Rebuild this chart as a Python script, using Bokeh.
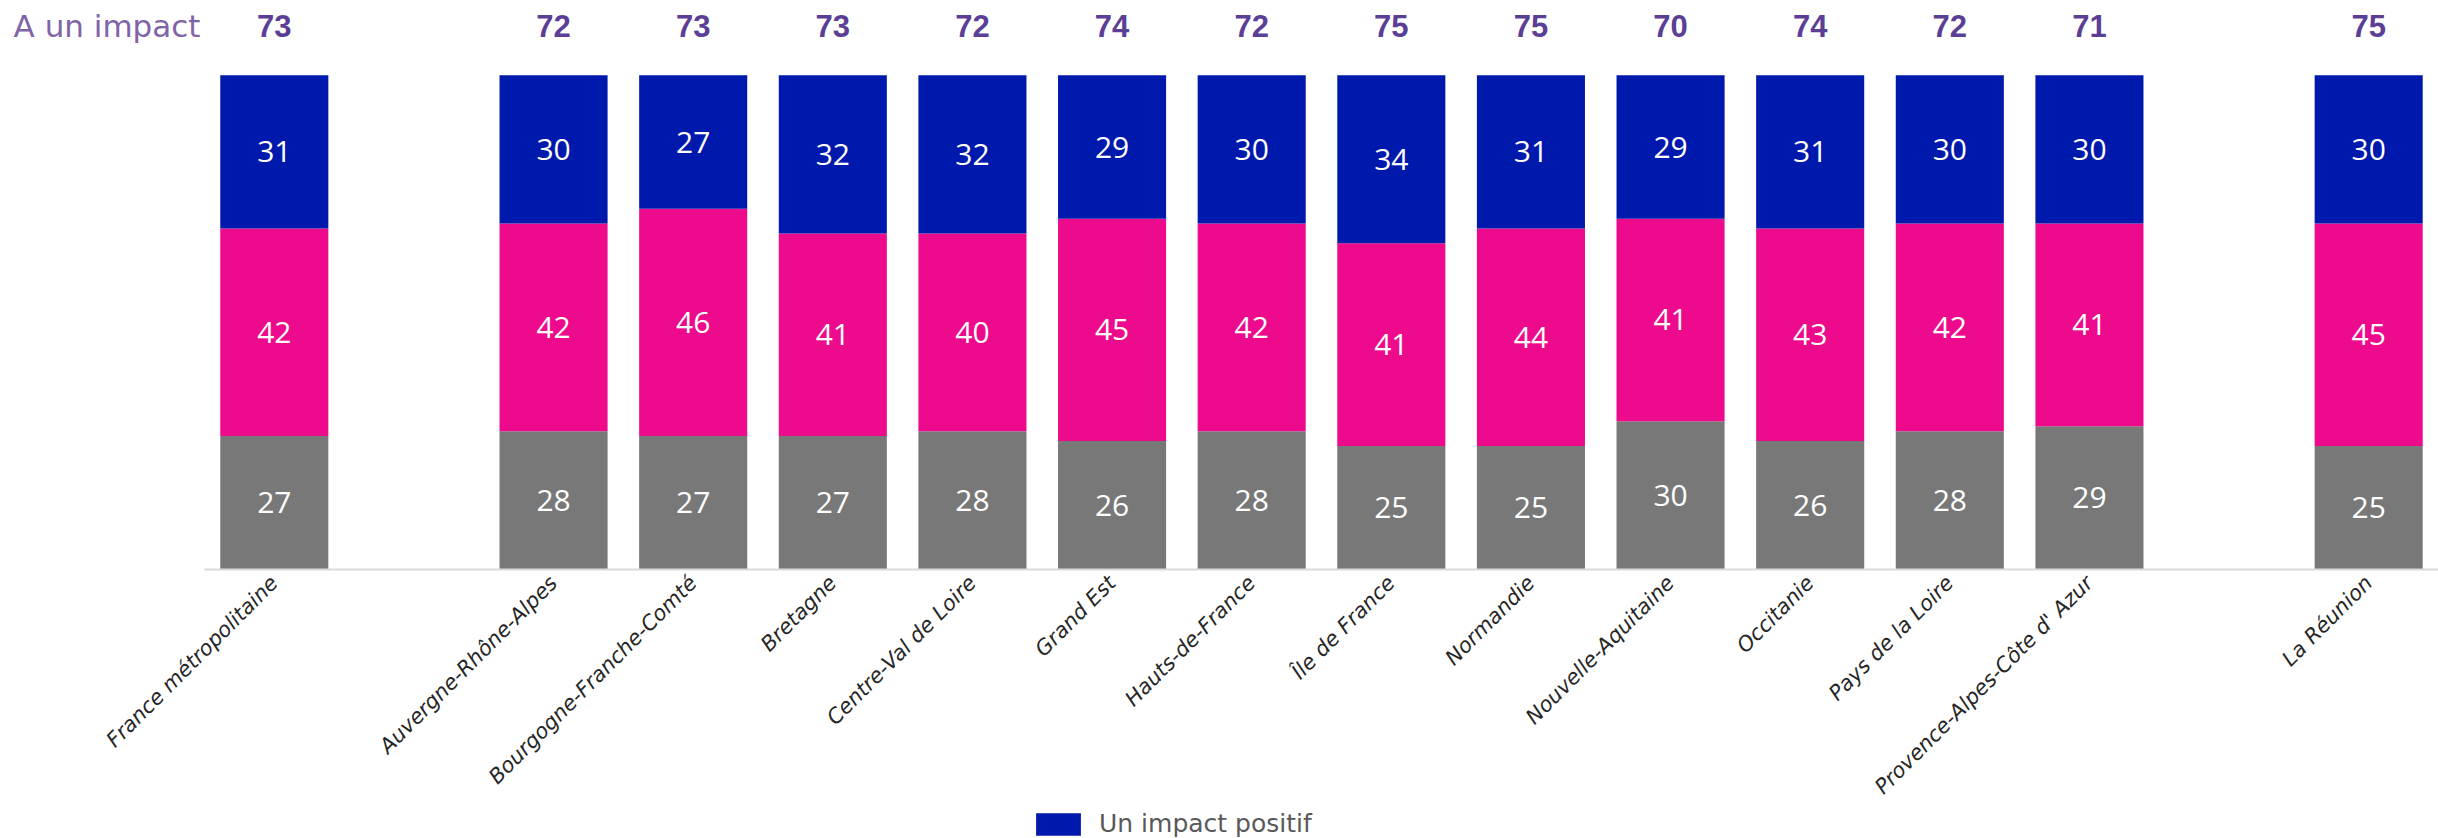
from bokeh.plotting import figure
from bokeh.layouts import column
from bokeh.models import Range1d, FixedTicker, ColumnDataSource, Legend, LegendItem, Label
from bokeh.core.properties import value
from bokeh.embed import file_html
from bokeh.resources import INLINE
import math

# ---- data ----
# slot layout of the category axis (None = empty slot)
slots = ["France métropolitaine", None, "Auvergne-Rhône-Alpes", "Bourgogne-Franche-Comté",
         "Bretagne", "Centre-Val de Loire", "Grand Est", "Hauts-de-France", "Île de France",
         "Normandie", "Nouvelle-Aquitaine", "Occitanie", "Pays de la Loire",
         "Provence-Alpes-Côte d' Azur", None, "La Réunion"]
regions = [s for s in slots if s]
aucun_impact = [27, 28, 27, 27, 28, 26, 28, 25, 25, 30, 26, 28, 29, 25]      # gray
impact_negatif = [42, 42, 46, 41, 40, 45, 42, 41, 44, 41, 43, 42, 41, 45]    # pink
impact_positif = [31, 30, 27, 32, 32, 29, 30, 34, 31, 29, 31, 30, 30, 30]    # blue
a_un_impact = [73, 72, 73, 73, 72, 74, 72, 75, 75, 70, 74, 72, 71, 75]      # totals
legend_label = "Un impact positif"
title_text = "A un impact"

# ---- styles ----
GRAY, PINK, BLUE = "#787878", "#EE0A8C", "#0019AD"
PURPLE = "#5B3E96"
FONT = "DejaVu Sans"

xs = [i for i, s in enumerate(slots) if s]
b1 = [0] * len(regions)
t1 = aucun_impact
t2 = [a + b for a, b in zip(t1, impact_negatif)]
t3 = [a + b for a, b in zip(t2, impact_positif)]

src = ColumnDataSource(dict(
    x=xs, b1=b1, t1=t1, t2=t2, t3=t3,
    m1=[(a + b) / 2 for a, b in zip(b1, t1)],
    m2=[(a + b) / 2 for a, b in zip(t1, t2)],
    m3=[(a + b) / 2 for a, b in zip(t2, t3)],
    l1=[str(v) for v in aucun_impact],
    l2=[str(v) for v in impact_negatif],
    l3=[str(v) for v in impact_positif],
    tot=[str(v) for v in a_un_impact],
    ty=[110.0] * len(regions),
))

p = figure(width=2438, height=810,
           x_range=Range1d(-1.961, 15.5), y_range=Range1d(0, 115.15),
           output_backend="svg", toolbar_location=None,
           min_border_left=0, min_border_right=0, min_border_top=0, min_border_bottom=240)
p.outline_line_color = None
p.grid.visible = False
p.yaxis.visible = False
p.background_fill_color = "white"

W = 0.774
p.vbar(x="x", width=W, bottom="b1", top="t1", source=src, fill_color=GRAY, line_color=None)
p.vbar(x="x", width=W, bottom="t1", top="t2", source=src, fill_color=PINK, line_color=None)
p.vbar(x="x", width=W, bottom="t2", top="t3", source=src, fill_color=BLUE, line_color=None)

for ycol, tcol in (("m1", "l1"), ("m2", "l2"), ("m3", "l3")):
    p.text(x="x", y=ycol, text=tcol, source=src, text_color="white",
           text_align="center", text_baseline="middle",
           text_font=value("Open Sans"), text_font_size="30px")

p.text(x="x", y="ty", text="tot", source=src, text_color=PURPLE,
       text_align="center", text_baseline="middle",
       text_font=value("Liberation Sans"), text_font_style="bold", text_font_size="31px")

p.add_layout(Label(x=-0.5, y=110, x_offset=-4, text=title_text, text_align="right",
                   text_baseline="middle", text_color="#7F64A8",
                   text_font=FONT, text_font_size="31px"))

ax = p.xaxis[0]
ax.bounds = (-0.5, 15.5)
ax.ticker = FixedTicker(ticks=xs)
ax.major_label_overrides = {x: s for x, s in zip(xs, regions)}
ax.major_label_orientation = math.pi / 4
ax.major_label_text_font = FONT
ax.major_label_text_font_style = "italic"
ax.major_label_text_font_size = "21px"
ax.major_label_text_color = "#262626"
ax.major_label_standoff = 10
ax.major_tick_line_color = None
ax.minor_tick_line_color = None
ax.major_tick_out = 0
ax.major_tick_in = 0
ax.axis_line_color = "#D9D9D9"
ax.axis_line_width = 2

# legend strip below the chart (its zero-width bars lie outside the visible y range)
q = figure(width=2438, height=28, x_range=Range1d(-1.961, 15.5), y_range=Range1d(1000, 1001),
           output_backend="svg", toolbar_location=None,
           min_border_left=0, min_border_right=0, min_border_top=0, min_border_bottom=0)
q.outline_line_color = None
q.grid.visible = False
q.axis.visible = False
r_leg = q.vbar(x=xs, width=0, top=impact_positif, fill_color=BLUE, line_color=None)
legend = Legend(items=[LegendItem(label=legend_label, renderers=[r_leg])],
                location=(1030, 0), orientation="horizontal",
                glyph_width=56, glyph_height=28, label_standoff=13,
                label_text_font=FONT, label_text_font_size="25px",
                label_text_color="#595959", border_line_color=None,
                background_fill_alpha=0, padding=0, margin=0, spacing=0)
q.add_layout(legend)

layout = column(p, q, spacing=0)
open("out.html", "w").write(file_html(layout, INLINE))
